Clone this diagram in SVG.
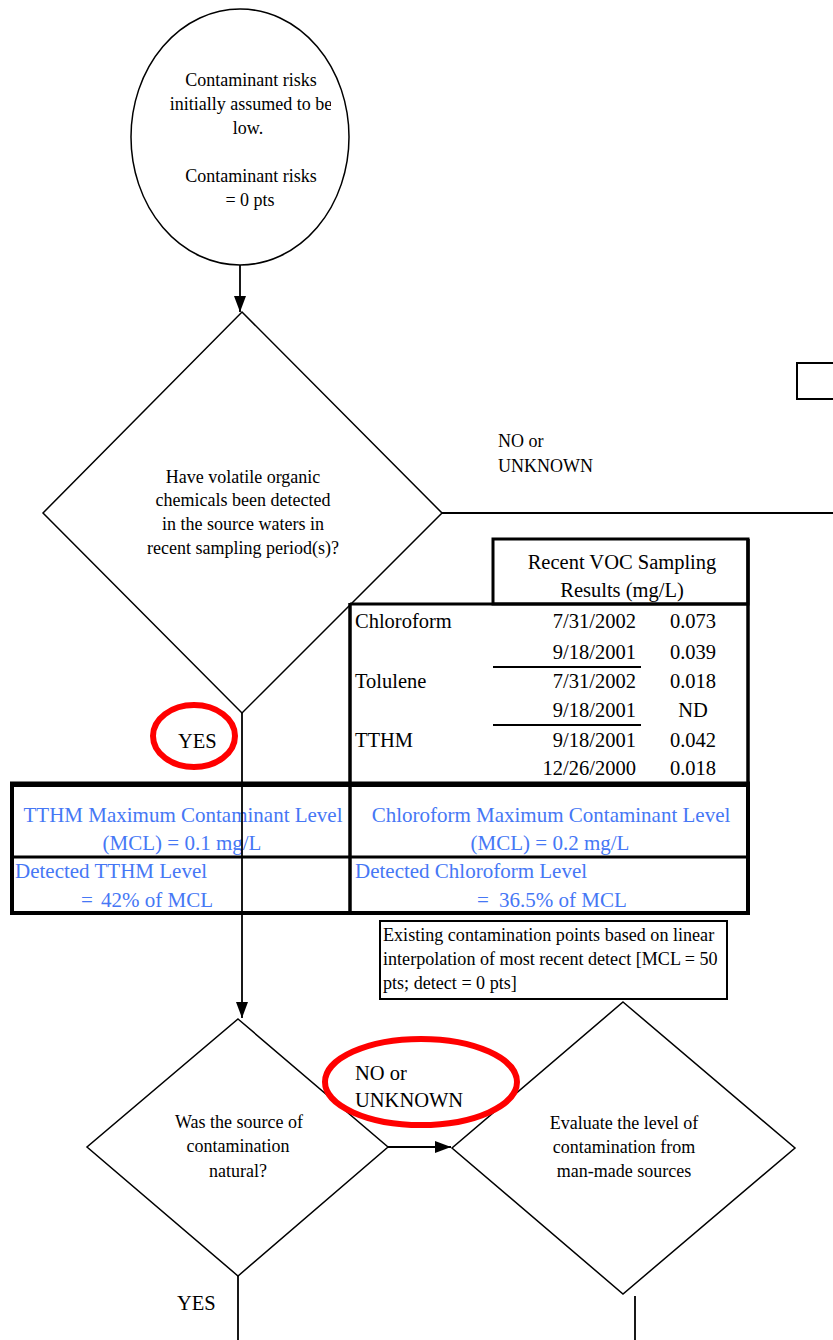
<svg xmlns="http://www.w3.org/2000/svg" width="833" height="1340" viewBox="0 0 833 1340">
<style>
text{font-family:"Liberation Serif","Times New Roman",serif;fill:#000}
.t18{font-size:18px}
.t20{font-size:20.5px}
.note{font-size:18.1px}
.blue{font-size:21px;fill:#4677f5}
.c{text-anchor:middle}
.r{text-anchor:end}
.shape{fill:#fff;stroke:#000;stroke-width:1.5}
.conn{fill:none;stroke:#000;stroke-width:1.8}
.red{fill:none;stroke:#f00;stroke-width:6}
</style>
<defs>
<marker id="arrL" viewBox="0 0 16 12" refX="16" refY="6" markerWidth="16" markerHeight="12" markerUnits="userSpaceOnUse" orient="auto">
<path d="M0,0 L16,6 L0,12 z" fill="#000"/>
</marker>
<clipPath id="circClip"><rect x="120" y="0" width="211" height="270"/></clipPath>
</defs>

<g id="start">
<ellipse class="shape" cx="240" cy="137" rx="109" ry="128"/>
<g clip-path="url(#circClip)">
<text class="t18 c" x="251" y="86">Contaminant risks</text>
<text class="t18 c" x="251" y="110">initially assumed to be</text>
<text class="t18 c" x="248" y="134">low.</text>
<text class="t18 c" x="251" y="182">Contaminant risks</text>
<text class="t18 c" x="250" y="206">= 0 pts</text>
</g>
</g>

<g id="decision1">
<polygon class="shape" points="242,312 442,513 242,713 43,513"/>
<text class="t18 c" x="243" y="483">Have volatile organic</text>
<text class="t18 c" x="243" y="506">chemicals been detected</text>
<text class="t18 c" x="243" y="530">in the source waters in</text>
<text class="t18 c" x="243" y="554">recent sampling period(s)?</text>
</g>

<g id="offpage-box">
<rect x="797" y="363" width="40" height="36" fill="#fff" stroke="#000" stroke-width="2"/>
</g>

<g id="voc-table">
<rect x="350" y="604" width="398" height="180" fill="#fff"/>
<rect x="493" y="539" width="255" height="65" fill="#fff" stroke="#000" stroke-width="3"/>
<text class="t20 c" x="622" y="569">Recent VOC Sampling</text>
<text class="t20 c" x="622" y="597">Results (mg/L)</text>
<line x1="350" y1="604" x2="748" y2="604" stroke="#000" stroke-width="3"/>
<line x1="350" y1="603" x2="350" y2="784" stroke="#000" stroke-width="3.5"/>
<line x1="748" y1="539" x2="748" y2="784" stroke="#000" stroke-width="3.5"/>
<line x1="493" y1="667" x2="641" y2="667" stroke="#000" stroke-width="2"/>
<line x1="493" y1="725" x2="641" y2="725" stroke="#000" stroke-width="2"/>
<text class="t20" x="355" y="628">Chloroform</text>
<text class="t20 r" x="636" y="628">7/31/2002</text>
<text class="t20 c" x="693" y="628">0.073</text>
<text class="t20 r" x="636" y="659">9/18/2001</text>
<text class="t20 c" x="693" y="659">0.039</text>
<text class="t20" x="355" y="688">Tolulene</text>
<text class="t20 r" x="636" y="688">7/31/2002</text>
<text class="t20 c" x="693" y="688">0.018</text>
<text class="t20 r" x="636" y="717">9/18/2001</text>
<text class="t20 c" x="693" y="717">ND</text>
<text class="t20" x="355" y="747">TTHM</text>
<text class="t20 r" x="636" y="747">9/18/2001</text>
<text class="t20 c" x="693" y="747">0.042</text>
<text class="t20 r" x="636" y="775">12/26/2000</text>
<text class="t20 c" x="693" y="775">0.018</text>
</g>

<g id="mcl-table">
<rect x="12" y="785" width="736" height="128" fill="#fff" stroke="#000" stroke-width="4"/>
<line x1="10" y1="784" x2="750" y2="784" stroke="#000" stroke-width="5"/>
<line x1="350" y1="784" x2="350" y2="913" stroke="#000" stroke-width="3.5"/>
<line x1="12" y1="857" x2="748" y2="857" stroke="#000" stroke-width="3"/>
<text class="blue c" x="183" y="822">TTHM Maximum Contaminant Level</text>
<text class="blue c" x="182" y="850">(MCL) = 0.1 mg/L</text>
<text class="blue" x="15" y="878">Detected TTHM Level</text>
<text class="blue" x="81" y="907">=</text>
<text class="blue" x="101" y="907">42% of MCL</text>
<text class="blue c" x="551" y="822">Chloroform Maximum Contaminant Level</text>
<text class="blue c" x="550" y="850">(MCL) = 0.2 mg/L</text>
<text class="blue" x="355" y="878">Detected Chloroform Level</text>
<text class="blue" x="477" y="907">=</text>
<text class="blue" x="499" y="907">36.5% of MCL</text>
</g>

<g id="note">
<rect x="380" y="921" width="347" height="78" fill="#fff" stroke="#000" stroke-width="2"/>
<text class="note" x="383" y="941">Existing contamination points based on linear</text>
<text class="note" x="383" y="965">interpolation of most recent detect [MCL = 50</text>
<text class="note" x="383" y="989">pts; detect = 0 pts]</text>
</g>

<g id="decision2">
<polygon class="shape" points="238,1019 388,1147 238,1276 87,1147"/>
<text class="t18 c" x="239" y="1128">Was the source of</text>
<text class="t18 c" x="238" y="1152">contamination</text>
<text class="t18 c" x="238" y="1177">natural?</text>
</g>

<g id="decision3">
<polygon class="shape" points="623,1002 795,1148 623,1294 452,1148"/>
<text class="t18 c" x="624" y="1129">Evaluate the level of</text>
<text class="t18 c" x="624" y="1153">contamination from</text>
<text class="t18 c" x="624" y="1177">man-made sources</text>
</g>

<g id="connectors">
<line class="conn" x1="240" y1="265" x2="240" y2="312" marker-end="url(#arrL)"/>
<line class="conn" x1="442" y1="513" x2="833" y2="513"/>
<line class="conn" x1="242" y1="713" x2="242" y2="1018" marker-end="url(#arrL)"/>
<line class="conn" x1="388" y1="1147" x2="451" y2="1147" marker-end="url(#arrL)"/>
<line class="conn" x1="238" y1="1276" x2="238" y2="1340"/>
<line class="conn" x1="635" y1="1296" x2="635" y2="1340"/>
</g>

<g id="labels">
<text class="t18" x="498" y="447">NO or</text>
<text class="t18" x="498" y="472">UNKNOWN</text>
<text class="t20" x="178" y="748">YES</text>
<text class="t20" x="355" y="1080">NO or</text>
<text class="t20" x="355" y="1107">UNKNOWN</text>
<text class="t20" x="177" y="1310">YES</text>
</g>

<g id="highlights">
<ellipse class="red" cx="194" cy="736" rx="41" ry="31"/>
<ellipse class="red" cx="421" cy="1082" rx="96" ry="43"/>
</g>
</svg>
